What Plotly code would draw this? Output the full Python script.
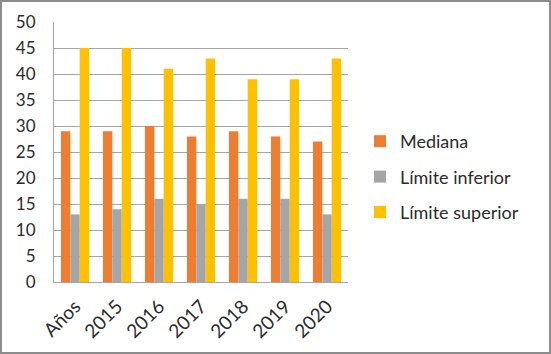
import plotly.graph_objects as go

categories = ["Años", "2015", "2016", "2017", "2018", "2019", "2020"]
mediana = [29, 29, 30, 28, 29, 28, 27]
lim_inf = [13, 14, 16, 15, 16, 16, 13]
lim_sup = [45, 45, 41, 43, 39, 39, 43]

series = [
    ("Mediana", mediana, "#ED7D31"),
    ("Límite inferior", lim_inf, "#A5A5A5"),
    ("Límite superior", lim_sup, "#FFC000"),
]

W, H = 551, 354
ML, MR, MT, MB = 54, 203, 22, 72
PW = W - ML - MR
PH = H - MT - MB

fig = go.Figure()
for name, vals, col in series:
    fig.add_trace(go.Bar(x=categories, y=vals, name=name, marker_color=col,
                         marker_line_width=0, legendgroup=name))

fam = "Lato, 'Open Sans', sans-serif"
font = dict(family=fam, size=17, color="#2b2b2b")
xfont = dict(family=fam, size=19, color="#2b2b2b")
lfont = dict(family=fam, size=18, color="#2b2b2b")
grid = "#a6a6a6"

fig.update_layout(
    width=W, height=H,
    margin=dict(l=ML, r=MR, t=MT, b=MB),
    paper_bgcolor="white", plot_bgcolor="white",
    font=font,
    barmode="group", bargap=0.33, bargroupgap=0,
    legend=dict(x=(360 - ML) / PW, y=(H - MB - 177) / PH, xanchor="left", yanchor="middle",
                font=lfont, tracegroupgap=9, bgcolor="rgba(0,0,0,0)"),
    xaxis=dict(tickangle=-45, showline=True, linecolor=grid, linewidth=1,
               showgrid=False, ticks="", tickfont=xfont, ticklabelstandoff=5),
    yaxis=dict(range=[0, 50], dtick=5, showgrid=True, gridcolor=grid, gridwidth=1,
               showline=True, linecolor=grid, linewidth=1, zeroline=False,
               ticks="", ticklabelstandoff=14, tickfont=font),
    shapes=[dict(type="rect", xref="paper", yref="paper",
                 x0=(-ML + 1) / PW, x1=(W - ML - 1) / PW,
                 y0=(-MB + 1) / PH, y1=(H - MB - 1) / PH,
                 line=dict(color="#8c8c8c", width=2), fillcolor="rgba(0,0,0,0)",
                 layer="below")],
)

fig.write_html("out.html")
